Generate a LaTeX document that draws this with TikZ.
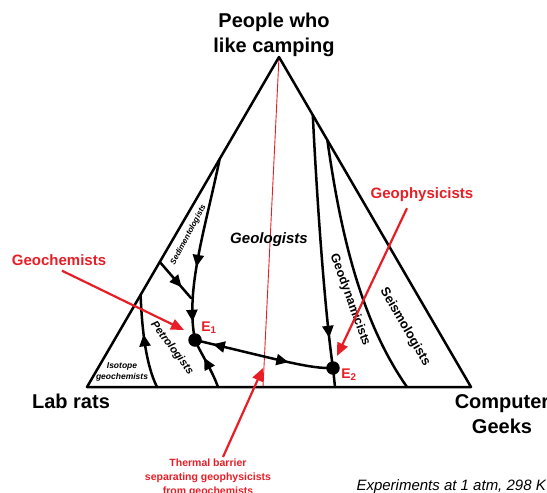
\documentclass[tikz,border=0pt]{standalone}
\usepackage{fontspec}
\setmainfont{Liberation Sans}
\usetikzlibrary{arrows.meta,decorations.markings,calc}
\definecolor{redc}{RGB}{232,30,38}
\tikzset{
  edgeline/.style={line width=2.5pt, line join=round},
  flowline/.style={line width=2.5pt, line cap=round},
  marr/.style={postaction={decorate, decoration={markings, mark=at position #1 with {\arrow{Triangle[length=12pt,width=11pt]}}}}},
  rarr/.style={postaction={decorate, decoration={markings, mark=at position #1 with {\arrowreversed{Triangle[length=12pt,width=11pt]}}}}},
  redarrow/.style={draw=redc, line width=2.2pt, -{Triangle[length=13pt,width=11pt]}, shorten <=0pt},
  dot/.style={circle, fill=black, inner sep=0pt, minimum size=13.5pt},
  bigtxt/.style={font=\fontsize{20}{25}\selectfont\bfseries, align=center, inner sep=0pt},
  redtxt/.style={text=redc, font=\fontsize{15}{18}\selectfont\bfseries, inner sep=0pt},
  fieldit/.style={font=\bfseries\itshape, inner sep=0pt},
  fieldup/.style={font=\bfseries, inner sep=0pt},
  elabel/.style={text=redc, font=\fontsize{14}{16}\selectfont\bfseries, inner sep=0pt}
}
\begin{document}
\begin{tikzpicture}[x=1pt,y=-1pt]
\useasboundingbox (0,0) rectangle (547,493);
\clip (0,0) rectangle (547,493);
% corners
\coordinate (A) at (279,57);
\coordinate (BL) at (87,387);
\coordinate (BR) at (471,387);
% edge points
\coordinate (L1) at ($(BL)!0.691!(A)$);
\coordinate (S1) at ($(BL)!0.379!(A)$);
\coordinate (I1) at ($(BL)!0.279!(A)$);
\coordinate (G1) at ($(BR)!0.824!(A)$);
\coordinate (S2) at ($(BR)!0.748!(A)$);
% base points
\coordinate (B0) at (157,387);
\coordinate (B1) at (218,387);
\coordinate (RB) at (263,387);
\coordinate (B2) at (335,387);
\coordinate (B3) at (407,387);
% junctions
\coordinate (e1) at (195,340);
\coordinate (e2) at (333,368);
\coordinate (J) at (191,298);

% thermal barrier line
\draw[redc, line width=0.9pt] (A) -- (RB);

% triangle
\draw[edgeline] (A) -- (BL) -- (BR) -- cycle;

% flow lines
\draw[flowline, marr=0.6, marr=0.9] (L1) .. controls (205,230) and (185,290) .. (e1);
\draw[flowline, marr=0.7] (S1) -- (J);
\draw[flowline, marr=0.58] (B0) .. controls (146,365) and (142,330) .. (I1);
\draw[flowline, marr=0.62] (B1) .. controls (212,370) and (200,352) .. (e1);
\draw[flowline, rarr=0.13, marr=0.68] (e1) .. controls (280,360) and (310,369) .. (e2);
\draw[flowline, marr=0.88] (G1) .. controls (318,220) and (326,320) .. (e2);
\draw[flowline] (e2) -- (B2);
\draw[flowline] (S2) .. controls (340,230) and (360,320) .. (B3);

% equilibrium points
\node[dot] (E1) at (e1) {};
\node[dot] (E2) at (e2) {};
\node[elabel] (E1l) at (209,328) {E\textsubscript{1}};
\node[elabel] (E2l) at (349,375) {E\textsubscript{2}};

% corner labels
\node[bigtxt] (top) at (274,35) {People who\\like camping};
\node[bigtxt] (lab) at (71,401) {Lab rats};
\node[bigtxt] (geeks) at (502,414) {Computer\\Geeks};

% field labels
\node[fieldit, font=\fontsize{15}{18}\selectfont\bfseries\itshape] (geol) at (269,240) {Geologists};
\node[fieldit, font=\fontsize{8}{9}\selectfont\bfseries\itshape, rotate=62] (sed) at (188.5,235) {Sedimentologists};
\node[fieldit, font=\fontsize{11}{13}\selectfont\bfseries\itshape, rotate=-53] (pet) at (172,348) {Petrologists};
\node[fieldit, font=\fontsize{8.5}{11}\selectfont\bfseries\itshape, align=center] (iso) at (122,372) {Isotope\\geochemists};
\node[fieldup, font=\fontsize{12.5}{15}\selectfont\bfseries, rotate=-70] (geod) at (350,300) {Geodynamicists};
\node[fieldup, font=\fontsize{13}{15}\selectfont\bfseries, rotate=-60] (seis) at (405,327) {Seismologists};

% red annotations
\node[redtxt] (gchem) at (59,260) {Geochemists};
\node[redtxt] (gphys) at (422,195) {Geophysicists};
\node[text=redc, font=\fontsize{10.5}{14}\selectfont\bfseries, align=center, inner sep=0pt, anchor=north] (therm) at (208,459) {Thermal barrier\\separating geophysicists\\from geochemists};
\coordinate (gchemTip) at (184,330);
\coordinate (gphysTip) at (337,356);
\coordinate (thermTip) at (263,368);
\draw[redarrow] ($(gchem.south)+(3,5)$) -- (gchemTip);
\draw[redarrow] ($(gphys.south)+(-15,6)$) -- (gphysTip);
\draw[redarrow] ($(therm.north)+(15,-2)$) -- (thermTip);

% note
\node[font=\fontsize{15}{18}\selectfont\itshape, inner sep=0pt, anchor=east] (note) at (546,487) {Experiments at 1 atm, 298 K};
\end{tikzpicture}
\end{document}
